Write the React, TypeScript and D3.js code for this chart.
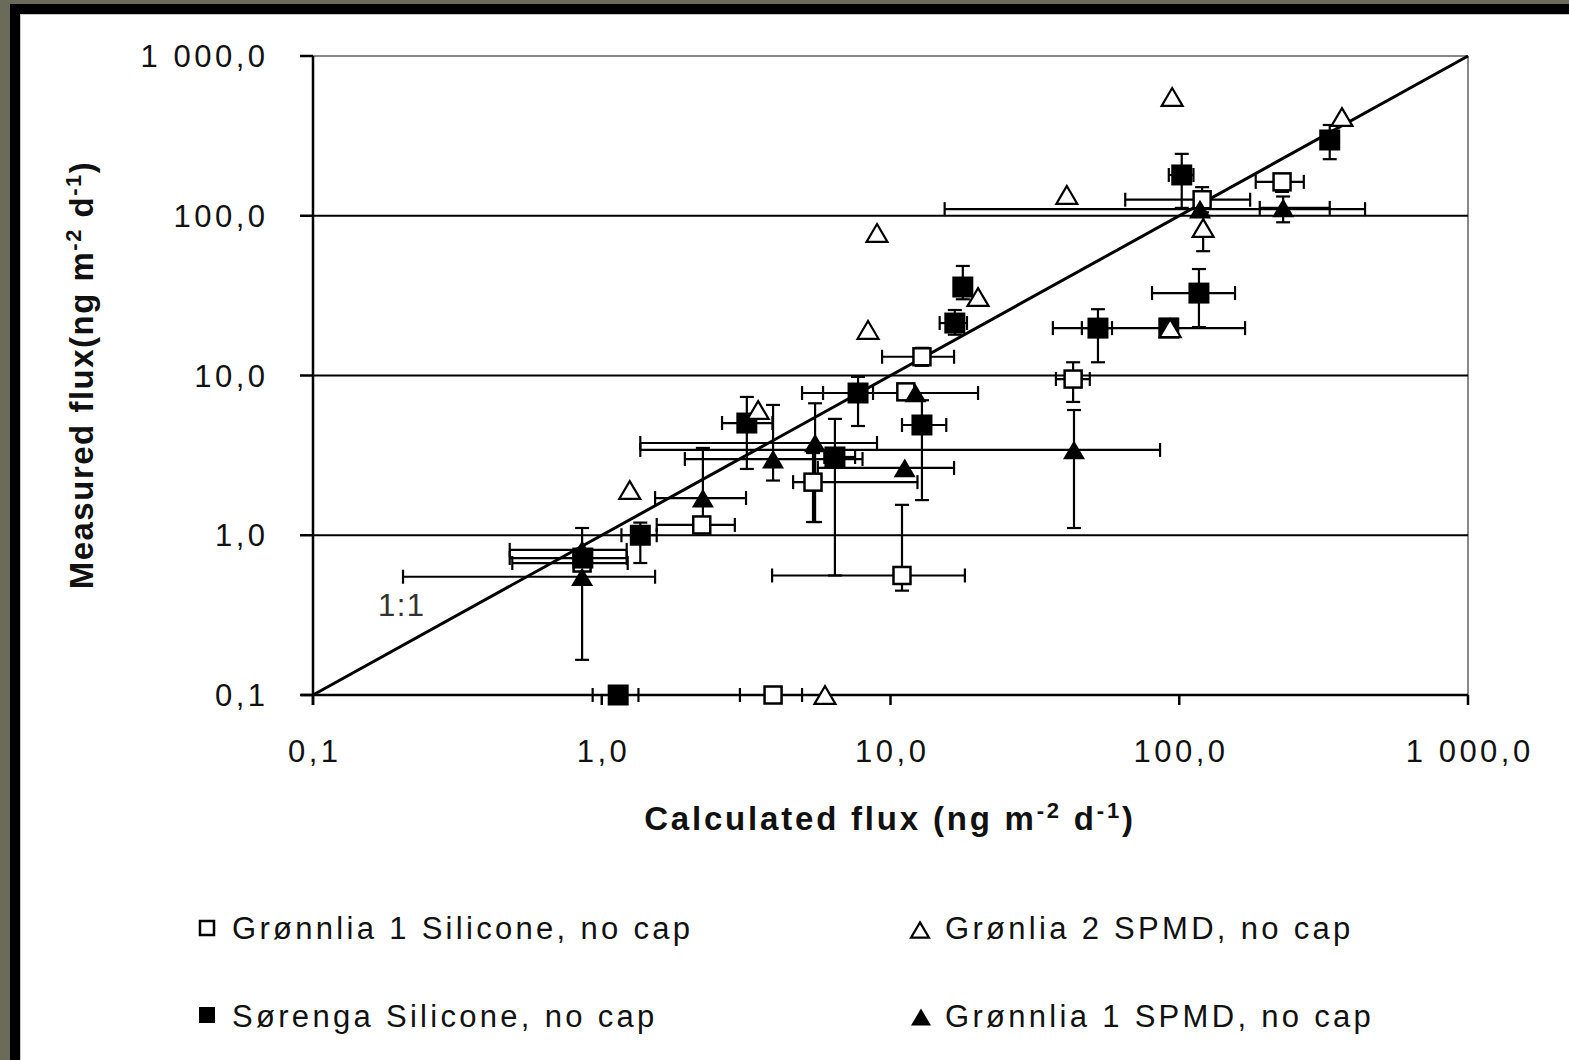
import React from "react";
import * as d3 from "d3";

// axis decades and their labels (comma decimals, as in the original)
const decades = [0.1, 1, 10, 100, 1000];
const decadeLabels = ["0,1", "1,0", "10,0", "100,0", "1 000,0"];

type Pt = { x: number; y: number; xe?: [number, number]; ye?: [number, number] };

// Grønnlia 1 Silicone, no cap (open square)
const gronnlia1Silicone: Pt[] = [
  { x: 227, y: 163, xe: [184, 270], ye: [141, 180] },
  { x: 120, y: 126, xe: [65, 176], ye: [105, 151] },
  { x: 92, y: 20 },
  { x: 42.9, y: 9.5, xe: [37.4, 49], ye: [6.83, 12.1] },
  { x: 12.85, y: 13.1, xe: [9.35, 16.6], ye: [11.5, 14.9] },
  { x: 11.3, y: 7.9 },
  { x: 5.39, y: 2.15, xe: [4.6, 12.4], ye: [1.21, 3.27] },
  { x: 2.22, y: 1.16, xe: [1.55, 2.89] },
  { x: 10.96, y: 0.56, xe: [3.89, 18.1], ye: [0.45, 1.55] },
  { x: 0.855, y: 0.67, xe: [0.49, 1.23] },
  { x: 3.92, y: 0.1, xe: [3.01, 4.94] },
];

// Sørenga Silicone, no cap (filled square)
const sorengaSilicone: Pt[] = [
  { x: 332, y: 298, ye: [226, 370] },
  { x: 102, y: 180, xe: [92, 112], ye: [112, 244] },
  { x: 117, y: 32.8, xe: [80.5, 156], ye: [20.1, 46.4] },
  { x: 52.3, y: 19.8, xe: [46, 58.5], ye: [12.1, 26] },
  { x: 92, y: 19.8, xe: [36.5, 169] },
  { x: 17.8, y: 35.8, ye: [30, 48.5] },
  { x: 16.7, y: 21.3, xe: [14.8, 18.4], ye: [18, 25.7] },
  { x: 7.72, y: 7.77, xe: [5.84, 8.7], ye: [4.83, 9.8] },
  { x: 12.85, y: 4.9, xe: [10.96, 15.6], ye: [1.66, 7.0] },
  { x: 3.18, y: 5.04, xe: [2.61, 3.9], ye: [2.6, 7.34] },
  { x: 6.42, y: 3.09, xe: [5.9, 7.54], ye: [0.56, 5.35] },
  { x: 1.36, y: 1.0, xe: [1.17, 1.55], ye: [0.67, 1.2] },
  { x: 0.86, y: 0.72, xe: [0.48, 1.22] },
  { x: 1.14, y: 0.1, xe: [0.93, 1.34] },
];

// Grønlia 2 SPMD, no cap (open triangle)
const gronlia2Spmd: Pt[] = [
  { x: 94.5, y: 554 },
  { x: 366, y: 415 },
  { x: 40.8, y: 135 },
  { x: 8.98, y: 78 },
  { x: 8.36, y: 19.3 },
  { x: 20.1, y: 31 },
  { x: 3.48, y: 6.08 },
  { x: 1.25, y: 1.92 },
  { x: 121, y: 83.8, ye: [60, 100] },
  { x: 93, y: 19.8 },
  { x: 5.93, y: 0.1 },
];

// Grønnlia 1 SPMD, no cap (filled triangle)
const gronnlia1Spmd: Pt[] = [
  { x: 229, y: 112, xe: [190, 332], ye: [91, 132] },
  { x: 118, y: 110, xe: [15.4, 440] },
  { x: 43.2, y: 3.42, xe: [1.36, 85.8], ye: [1.11, 6.08] },
  { x: 12.2, y: 7.77, xe: [4.94, 20.1] },
  { x: 11.2, y: 2.64, xe: [5.6, 16.6] },
  { x: 5.48, y: 3.78, xe: [1.36, 8.98], ye: [1.21, 6.7] },
  { x: 3.92, y: 3.0, xe: [1.94, 8.0], ye: [2.2, 6.54] },
  { x: 2.24, y: 1.71, xe: [1.53, 3.16], ye: [1.3, 3.52] },
  { x: 0.855, y: 0.81, xe: [0.48, 1.22], ye: [0.7, 1.11] },
  { x: 0.855, y: 0.55, xe: [0.205, 1.53], ye: [0.166, 0.81] },
];

const legendLabels = [
  "Grønnlia 1 Silicone, no cap",
  "Grønlia 2 SPMD, no cap",
  "Sørenga Silicone, no cap",
  "Grønnlia 1 SPMD, no cap",
];

const font = "'Liberation Sans', Arial, sans-serif";

const x = d3.scaleLog().domain([0.1, 1000]).range([313, 1468]);
const y = d3.scaleLog().domain([0.1, 1000]).range([695, 56]);

const Square = ({ cx, cy, s, filled }: { cx: number; cy: number; s: number; filled: boolean }) => (
  <rect
    x={cx - s / 2}
    y={cy - s / 2}
    width={s}
    height={s}
    fill={filled ? "#000" : "#fff"}
    stroke="#000"
    strokeWidth={filled ? 0 : 2.5}
  />
);

const Triangle = ({ cx, cy, s, filled }: { cx: number; cy: number; s: number; filled: boolean }) => {
  const h = s * 0.85;
  const p = d3.path();
  p.moveTo(cx, cy - h / 2);
  p.lineTo(cx + s / 2, cy + h / 2);
  p.lineTo(cx - s / 2, cy + h / 2);
  p.closePath();
  return <path d={p.toString()} fill={filled ? "#000" : "#fff"} stroke="#000" strokeWidth={filled ? 0 : 2.2} />;
};

const ErrorBars = ({ data }: { data: Pt[] }) => (
  <g stroke="#000" strokeWidth={2.2}>
    {data.map((d, i) => {
      const cx = x(d.x), cy = y(d.y);
      return (
        <g key={i}>
          {d.xe && (
            <>
              <line x1={x(d.xe[0])} x2={x(d.xe[1])} y1={cy} y2={cy} />
              <line x1={x(d.xe[0])} x2={x(d.xe[0])} y1={cy - 7} y2={cy + 7} />
              <line x1={x(d.xe[1])} x2={x(d.xe[1])} y1={cy - 7} y2={cy + 7} />
            </>
          )}
          {d.ye && (
            <>
              <line x1={cx} x2={cx} y1={y(d.ye[0])} y2={y(d.ye[1])} />
              <line x1={cx - 7} x2={cx + 7} y1={y(d.ye[0])} y2={y(d.ye[0])} />
              <line x1={cx - 7} x2={cx + 7} y1={y(d.ye[1])} y2={y(d.ye[1])} />
            </>
          )}
        </g>
      );
    })}
  </g>
);

const App = () => {
  const [x0, x1] = x.range();
  const [y0, y1] = y.range();
  const tickLs = 3.5;
  const legLs = 3.3;
  return (
    <svg
      width={1569}
      height={1060}
      style={{ position: "absolute", left: 0, top: 0, background: "#fff" }}
      fontFamily={font}
    >
      {/* frame */}
      <rect x={0} y={0} width={1569} height={1060} fill="#6b6b5c" />
      <rect x={10} y={4} width={1559} height={1056} fill="#000" />
      <rect x={20} y={14} width={1549} height={1046} fill="#c8c8c8" />
      <rect x={21} y={15} width={1548} height={1045} fill="#fff" />

      {/* plot border top/right */}
      <line x1={x0} x2={x1} y1={y1} y2={y1} stroke="#888" strokeWidth={2} />
      <line x1={x1} x2={x1} y1={y1} y2={y0} stroke="#888" strokeWidth={2} />

      {/* gridlines */}
      {decades.slice(1, 4).map((d) => (
        <line key={d} x1={x0} x2={x1} y1={y(d)} y2={y(d)} stroke="#000" strokeWidth={2} />
      ))}

      {/* axes */}
      <line x1={x0} x2={x0} y1={y1} y2={y0 + 10} stroke="#000" strokeWidth={2.5} />
      <line x1={x0 - 12} x2={x1} y1={y0} y2={y0} stroke="#000" strokeWidth={2.5} />
      {decades.map((d) => (
        <g key={d}>
          <line x1={x0 - 13} x2={x0} y1={y(d)} y2={y(d)} stroke="#000" strokeWidth={2.5} />
          <line x1={x(d)} x2={x(d)} y1={y0} y2={y0 + 10} stroke="#000" strokeWidth={2.5} />
        </g>
      ))}
      {decades.map((d, i) => (
        <text key={"yl" + d} x={265 + tickLs} y={y(d) + 11} textAnchor="end" fontSize={31} letterSpacing={tickLs} fill="#111">
          {decadeLabels[i]}
        </text>
      ))}
      {decades.map((d, i) => (
        <text key={"xl" + d} x={x(d) + tickLs / 2} y={762} textAnchor="middle" fontSize={31} letterSpacing={tickLs} fill="#111">
          {decadeLabels[i]}
        </text>
      ))}

      {/* axis titles */}
      <text x={890} y={830} textAnchor="middle" fontSize={33} fontWeight="bold" letterSpacing={2.8} fill="#111">
        Calculated flux (ng m<tspan dy={-12} fontSize={22}>-2</tspan>
        <tspan dy={12}> d</tspan>
        <tspan dy={-12} fontSize={22}>-1</tspan>
        <tspan dy={12}>)</tspan>
      </text>
      <text
        transform="translate(93,375) rotate(-90)"
        textAnchor="middle"
        fontSize={33}
        fontWeight="bold"
        letterSpacing={1.5}
        fill="#111"
      >
        Measured flux(ng m<tspan dy={-12} fontSize={22}>-2</tspan>
        <tspan dy={12}> d</tspan>
        <tspan dy={-12} fontSize={22}>-1</tspan>
        <tspan dy={12}>)</tspan>
      </text>

      {/* 1:1 line */}
      <line x1={x(0.1)} y1={y(0.1)} x2={x(1000)} y2={y(1000)} stroke="#000" strokeWidth={3} />
      <text x={378} y={616} fontSize={31} letterSpacing={1.5} fill="#333">1:1</text>

      {/* error bars */}
      <ErrorBars data={gronnlia1Silicone} />
      <ErrorBars data={sorengaSilicone} />
      <ErrorBars data={gronlia2Spmd} />
      <ErrorBars data={gronnlia1Spmd} />

      {/* markers */}
      {gronnlia1Silicone.map((d, i) => (
        <Square key={"a" + i} cx={x(d.x)} cy={y(d.y)} s={17} filled={false} />
      ))}
      {sorengaSilicone.map((d, i) => (
        <Square key={"b" + i} cx={x(d.x)} cy={y(d.y)} s={21} filled={true} />
      ))}
      {gronlia2Spmd.map((d, i) => (
        <Triangle key={"c" + i} cx={x(d.x)} cy={y(d.y)} s={21} filled={false} />
      ))}
      {gronnlia1Spmd.map((d, i) => (
        <Triangle key={"d" + i} cx={x(d.x)} cy={y(d.y)} s={22} filled={true} />
      ))}

      {/* legend */}
      <Square cx={207} cy={928} s={14} filled={false} />
      <text x={232} y={939} fontSize={31} letterSpacing={legLs} fill="#111">{legendLabels[0]}</text>
      <Triangle cx={920} cy={930} s={18} filled={false} />
      <text x={945} y={939} fontSize={31} letterSpacing={legLs} fill="#111">{legendLabels[1]}</text>
      <Square cx={207} cy={1015} s={16} filled={true} />
      <text x={232} y={1027} fontSize={31} letterSpacing={legLs} fill="#111">{legendLabels[2]}</text>
      <Triangle cx={921} cy={1017} s={20} filled={true} />
      <text x={945} y={1027} fontSize={31} letterSpacing={legLs} fill="#111">{legendLabels[3]}</text>
    </svg>
  );
};

export default App;
